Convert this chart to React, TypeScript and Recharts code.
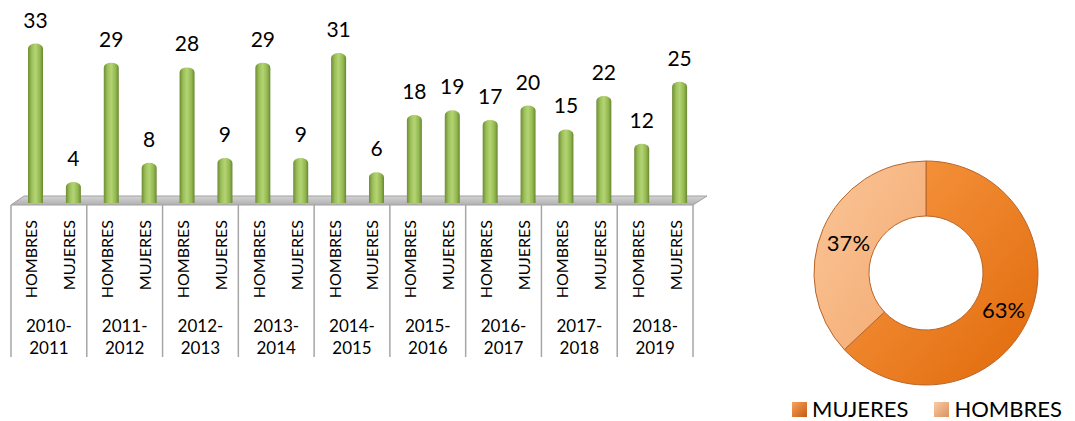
import React from "react";
import { BarChart, Bar, XAxis, YAxis, LabelList, Customized, PieChart, Pie, Cell, Legend } from "recharts";

const FONT = "Lato, 'Noto Sans', sans-serif";

const years = ["2010-2011", "2011-2012", "2012-2013", "2013-2014", "2014-2015", "2015-2016", "2016-2017", "2017-2018", "2018-2019"];
const genders = ["HOMBRES", "MUJERES"];
const hombres = [33, 29, 28, 29, 31, 18, 17, 15, 12];
const mujeres = [4, 8, 9, 9, 6, 19, 20, 22, 25];

const shareNames = ["MUJERES", "HOMBRES"];
const shareValues = [63, 37];
const shareFills = ["url(#gMuj)", "url(#gHom)"];
const legendFills = ["linear-gradient(135deg,#F7A35C,#C55A11)", "linear-gradient(135deg,#FBCBA4,#D9935F)"];

const rows = years.flatMap((year, i) => [
  { year, gender: genders[0], value: hombres[i] },
  { year, gender: genders[1], value: mujeres[i] },
]);

// bars sit a bit to the right of their tick (3D depth look)
const SHIFT = 6;

function Cylinder(props: any) {
  const { x, y, width, height } = props;
  if (!height) return null;
  const bx = x + SHIFT;
  const ry = 5;
  const bottom = y + height + 2;
  return (
    <path
      d={`M${bx},${y + ry} A${width / 2},${ry} 0 0 1 ${bx + width},${y + ry} L${bx + width},${bottom} L${bx},${bottom} Z`}
      fill="url(#gBar)"
    />
  );
}

function ValueLabel(props: any) {
  const { x, y, width, value } = props;
  return (
    <text x={x + width / 2 + SHIFT} y={y - 16} textAnchor="middle" fontSize={21} fontFamily={FONT} fill="#000">
      {value}
    </text>
  );
}

function GenderTick(props: any) {
  const { x, y, payload } = props;
  const ty = y + 19;
  return (
    <text x={x + 1} y={ty} transform={`rotate(-90 ${x + 1} ${ty})`} textAnchor="end" dominantBaseline="central" fontSize={16} fontFamily={FONT} fill="#000">
      {payload.value}
    </text>
  );
}

function YearTick(props: any) {
  const { x, y, payload, index, visibleTicksCount } = props;
  const bw = props.width && visibleTicksCount ? props.width / visibleTicksCount : 76;
  const [a, b] = String(payload.value).split("-");
  const last = index === (visibleTicksCount || years.length) - 1;
  return (
    <g>
      <line x1={x - bw / 2} x2={x - bw / 2} y1={y - 96} y2={y + 56} stroke="#A6A6A6" strokeWidth={1.5} />
      {last && <line x1={x + bw / 2} x2={x + bw / 2} y1={y - 96} y2={y + 56} stroke="#A6A6A6" strokeWidth={1.5} />}
      <text x={x} y={y + 24} textAnchor="middle" dominantBaseline="central" fontSize={17} fontFamily={FONT} fill="#000">
        {a}-
      </text>
      <text x={x} y={y + 46} textAnchor="middle" dominantBaseline="central" fontSize={17} fontFamily={FONT} fill="#000">
        {b}
      </text>
    </g>
  );
}

function Floor() {
  return (
    <g>
      <defs>
        <linearGradient id="gBar" x1="0" y1="0" x2="1" y2="0">
          <stop offset="0%" stopColor="#6F8C34" />
          <stop offset="25%" stopColor="#9CC05A" />
          <stop offset="50%" stopColor="#B4D474" />
          <stop offset="80%" stopColor="#92B74F" />
          <stop offset="100%" stopColor="#6A8731" />
        </linearGradient>
        <linearGradient id="gFloor" x1="0" y1="0" x2="0" y2="1">
          <stop offset="0%" stopColor="#D4D4D4" />
          <stop offset="100%" stopColor="#B0B0B0" />
        </linearGradient>
      </defs>
      <polygon points="11,205 693,205 707,196 24,196" fill="url(#gFloor)" stroke="#A0A0A0" strokeWidth={1} />
    </g>
  );
}

function PctLabel(props: any) {
  const { cx, cy, midAngle, innerRadius, outerRadius, percent } = props;
  const RAD = Math.PI / 180;
  const r = (innerRadius + outerRadius) / 2;
  const lx = cx + r * Math.cos(-midAngle * RAD);
  const ly = cy + r * Math.sin(-midAngle * RAD);
  return (
    <text x={lx} y={ly + 3} textAnchor="middle" dominantBaseline="central" fontSize={22} fontFamily={FONT} fill="#000">
      {Math.round(percent * 100)}%
    </text>
  );
}

function PieLegend() {
  return (
    <div style={{ display: "flex", alignItems: "center", fontFamily: FONT, fontSize: 22, lineHeight: "20px", color: "#000", whiteSpace: "nowrap" }}>
      {shareNames.map((n, i) => (
        <span key={n} style={{ display: "flex", alignItems: "center", marginRight: 26 }}>
          <span style={{ display: "inline-block", width: 15, height: 15, background: legendFills[i], marginRight: 5 }} />
          {n}
        </span>
      ))}
    </div>
  );
}

export default function App() {
  return (
    <div style={{ position: "absolute", left: 0, top: 0, width: 1075, height: 421, background: "#fff" }}>
      <div style={{ position: "absolute", left: 0, top: 0 }}>
        <BarChart width={720} height={421} data={rows} margin={{ top: 34, right: 27, left: 11, bottom: 60 }} barSize={15}>
          <Customized component={Floor} />
          <XAxis dataKey="gender" interval={0} tickLine={false} axisLine={false} tickSize={0} tickMargin={0} height={100} tick={<GenderTick />} />
          <XAxis xAxisId="year" dataKey="year" allowDuplicatedCategory={false} interval={0} tickLine={false} axisLine={false} tickSize={0} tickMargin={0} height={60} tick={<YearTick />} />
          <YAxis hide domain={[0, 35]} />
          <Bar dataKey="value" shape={<Cylinder />} isAnimationActive={false}>
            <LabelList dataKey="value" content={<ValueLabel />} />
          </Bar>
        </BarChart>
      </div>
      <div style={{ position: "absolute", left: 750, top: 0 }}>
        <PieChart width={325} height={421}>
          <defs>
            <linearGradient id="gMuj" x1="0" y1="0" x2="1" y2="1">
              <stop offset="0%" stopColor="#F99A45" />
              <stop offset="100%" stopColor="#E0690A" />
            </linearGradient>
            <linearGradient id="gHom" x1="0" y1="0" x2="1" y2="1">
              <stop offset="0%" stopColor="#FBC597" />
              <stop offset="100%" stopColor="#F2A970" />
            </linearGradient>
          </defs>
          <Pie
            data={shareNames.map((name, i) => ({ name, value: shareValues[i] }))}
            dataKey="value"
            nameKey="name"
            cx={171}
            cy={268}
            innerRadius={57}
            outerRadius={112}
            startAngle={90}
            endAngle={-270}
            stroke="#B8652A"
            strokeWidth={1}
            label={PctLabel}
            labelLine={false}
            isAnimationActive={false}
          >
            {shareNames.map((n, i) => (
              <Cell key={n} fill={shareFills[i]} />
            ))}
          </Pie>
          <Legend content={<PieLegend />} wrapperStyle={{ left: 42, top: 399, width: "auto", height: 20 }} />
        </PieChart>
      </div>
    </div>
  );
}
